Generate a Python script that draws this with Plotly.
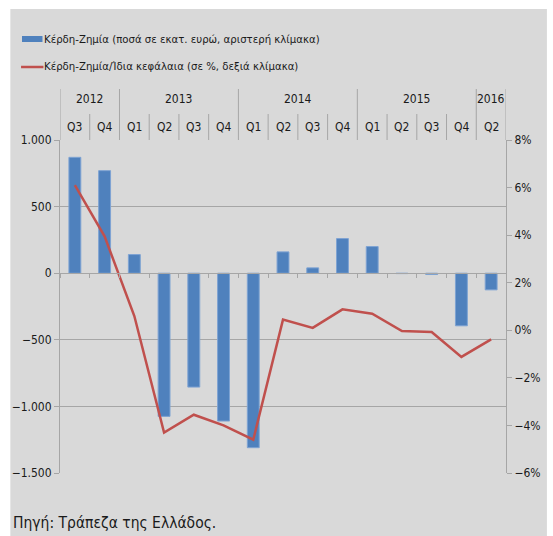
import itertools
import plotly.graph_objects as go

# Quarterly bank results, Greece
years = ["2012", "2012", "2013", "2013", "2013", "2013", "2014", "2014",
         "2014", "2014", "2015", "2015", "2015", "2015", "2016"]
quarters = ["Q3", "Q4", "Q1", "Q2", "Q3", "Q4", "Q1", "Q2",
            "Q3", "Q4", "Q1", "Q2", "Q3", "Q4", "Q2"]
profit = [870, 770, 140, -1075, -855, -1110, -1310, 160,
          40, 260, 200, -3, -10, -395, -125]          # εκατ. ευρώ
roe = [6.1, 3.95, 0.6, -4.3, -3.55, -4.0, -4.6, 0.45,
       0.1, 0.88, 0.7, -0.03, -0.07, -1.12, -0.38]    # %

bar_name = "Κέρδη-Ζημία (ποσά σε εκατ. ευρώ, αριστερή κλίμακα)"
line_name = "Κέρδη-Ζημία/Ίδια κεφάλαια (σε %, δεξιά κλίμακα)"
source = "Πηγή: Τράπεζα της Ελλάδος."

BLUE, RED, GRID, BG = "#4f81bd", "#c0504d", "#a6a6a6", "#d9d9d9"
FONT = "Tahoma, 'DejaVu Sans Condensed', 'Liberation Sans', sans-serif"

W, H = 553, 536
L, R, T, B = 58, 37, 140, 63
pw, ph = W - L - R, H - T - B
px = lambda x: (x - L) / pw          # pixel -> paper x
py = lambda y: (H - B - y) / ph      # pixel -> paper y

cats = [f"{q} {y}" for y, q in zip(years, quarters)]

fig = go.Figure()
fig.add_trace(go.Bar(
    x=cats, y=profit, name=bar_name, yaxis="y",
    marker=dict(color=BLUE, line=dict(color="#7ea3d3", width=1)),
    showlegend=False))
fig.add_trace(go.Scatter(
    x=cats, y=roe, name=line_name, yaxis="y2", mode="lines",
    line=dict(color=RED, width=2.5), showlegend=False))

shapes = [
    # grey panel behind everything
    dict(type="rect", xref="paper", yref="paper", x0=px(7), x1=px(W + 5),
         y0=py(H + 5), y1=py(9), fillcolor=BG, line=dict(width=0), layer="below"),
    # legend symbols
    dict(type="rect", xref="paper", yref="paper", x0=px(19), x1=px(40),
         y0=py(42), y1=py(36), fillcolor=BLUE, line=dict(width=0)),
    dict(type="line", xref="paper", yref="paper", x0=px(18), x1=px(41),
         y0=py(67), y1=py(67), line=dict(color=RED, width=2.5)),
]
annotations = [
    dict(text=bar_name, xref="paper", yref="paper", x=px(40), y=py(39.5),
         xanchor="left", yanchor="middle", showarrow=False, font=dict(size=11.3)),
    dict(text=line_name, xref="paper", yref="paper", x=px(40), y=py(66.5),
         xanchor="left", yanchor="middle", showarrow=False, font=dict(size=11.3)),
    dict(text=source, xref="paper", yref="paper", x=px(8), y=py(523),
         xanchor="left", yanchor="middle", showarrow=False, font=dict(size=15.5)),
]

# category header above the plot: quarter row + year row with separators
n = len(cats)
for i, q in enumerate(quarters):
    annotations.append(dict(text=q, xref="x", yref="paper", x=i, y=py(127),
                            xanchor="center", yanchor="middle", showarrow=False,
                            font=dict(size=12)))
start = 0
for y, grp in itertools.groupby(years):
    cnt = len(list(grp))
    annotations.append(dict(text=y, xref="x", yref="paper",
                            x=start + (cnt - 1) / 2, y=py(99),
                            xanchor="center", yanchor="middle", showarrow=False,
                            font=dict(size=12)))
    shapes.append(dict(type="line", xref="x", yref="paper", x0=start - 0.5,
                       x1=start - 0.5, y0=1, y1=py(89), line=dict(color=GRID, width=1)))
    start += cnt
shapes.append(dict(type="line", xref="x", yref="paper", x0=n - 0.5, x1=n - 0.5,
                   y0=1, y1=py(89), line=dict(color=GRID, width=1)))
for i in range(1, n):
    if years[i] == years[i - 1]:
        shapes.append(dict(type="line", xref="x", yref="paper", x0=i - 0.5,
                           x1=i - 0.5, y0=1, y1=py(114),
                           line=dict(color=GRID, width=1)))

fig.update_layout(
    width=W, height=H, autosize=False,
    margin=dict(l=L, r=R, t=T, b=B, pad=0),
    paper_bgcolor="white", plot_bgcolor=BG,
    font=dict(family=FONT, size=12, color="#1a1a1a"),
    separators=",.",
    bargap=0.6,
    shapes=shapes, annotations=annotations,
    xaxis=dict(type="category", range=[-0.5, n - 0.5], anchor="free",
               position=0.6, showline=True, linecolor=GRID, linewidth=1,
               ticks="outside", tickson="boundaries", ticklen=4,
               tickcolor=GRID, showticklabels=False, showgrid=False,
               zeroline=False, fixedrange=True),
    yaxis=dict(range=[-1500, 1000], tick0=0, dtick=500, showgrid=True,
               gridcolor=GRID, gridwidth=1, showline=True, linecolor=GRID,
               ticks="outside", ticklen=5, tickcolor=GRID,
               separatethousands=True, zeroline=False),
    yaxis2=dict(range=[-6, 8], tick0=0, dtick=2, overlaying="y", side="right",
                ticksuffix="%", showgrid=False, showline=True, linecolor=GRID,
                ticks="outside", ticklen=5, tickcolor=GRID, zeroline=False),
)

# drop the browser's default body margin so the figure sits at the page corner
fig.write_html("out.html", config={"displayModeBar": False},
               post_script="document.body.style.margin='0';"
               "document.body.style.overflow='hidden';")
